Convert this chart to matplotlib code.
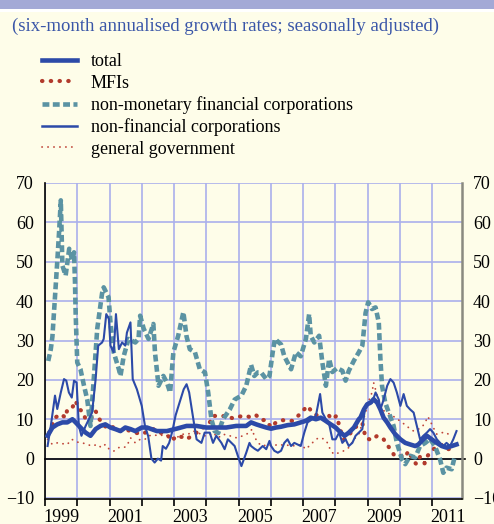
import matplotlib
matplotlib.use('Agg')
import matplotlib.pyplot as plt
from matplotlib.patches import Rectangle
from matplotlib.lines import Line2D

plt.rcParams['font.family'] = ['Liberation Serif', 'DejaVu Serif']

# non-monetary financial corporations
nmfc_x = [1999.10, 1999.18, 1999.23, 1999.38, 1999.44, 1999.49, 1999.54, 1999.64, 1999.75, 1999.85,
          1999.90, 1999.93, 1999.95, 2000.00, 2000.10, 2000.21, 2000.31, 2000.41, 2000.51, 2000.62,
          2000.77, 2000.82, 2000.97, 2001.03, 2001.13, 2001.29, 2001.34, 2001.44, 2001.59, 2001.80,
          2001.90, 2001.95, 2002.06, 2002.21, 2002.36, 2002.41, 2002.52, 2002.67, 2002.78, 2002.88,
          2002.98, 2003.13, 2003.29, 2003.39, 2003.49, 2003.65, 2003.80, 2003.96, 2004.06, 2004.16,
          2004.26, 2004.37, 2004.52, 2004.73, 2004.88, 2005.09, 2005.24, 2005.39, 2005.49, 2005.60,
          2005.70, 2005.86, 2005.96, 2006.06, 2006.13, 2006.32, 2006.42, 2006.63, 2006.78, 2006.93,
          2007.09, 2007.19, 2007.24, 2007.35, 2007.50, 2007.60, 2007.71, 2007.81, 2007.91, 2008.06,
          2008.22, 2008.32, 2008.42, 2008.58, 2008.73, 2008.84, 2008.94, 2009.02, 2009.14, 2009.25,
          2009.35, 2009.40, 2009.45, 2009.55, 2009.66, 2009.81, 2009.91, 2010.07, 2010.17, 2010.32,
          2010.48, 2010.63, 2010.79, 2010.94, 2011.09, 2011.25, 2011.35, 2011.45, 2011.61, 2011.71]
nmfc_y = [24.8, 27.8, 31.0, 50.0, 58.0, 65.6, 49.0, 46.5, 53.3, 50.3,
          52.4, 44.8, 37.0, 24.4, 22.7, 18.5, 15.0, 8.3, 20.0, 33.0,
          42.0, 43.5, 41.0, 34.6, 27.0, 22.7, 21.0, 26.0, 30.4, 29.5,
          30.4, 36.3, 33.0, 30.4, 34.2, 27.0, 18.5, 21.0, 19.3, 16.8,
          27.0, 31.2, 37.2, 31.0, 27.8, 27.0, 22.7, 21.9, 16.8, 10.0,
          7.0, 6.5, 10.0, 12.5, 15.0, 16.0, 18.5, 23.8, 21.0, 21.9,
          21.9, 20.2, 21.0, 27.0, 30.4, 29.0, 26.0, 22.7, 27.0, 26.0,
          30.4, 36.7, 31.2, 29.5, 31.2, 24.4, 18.5, 25.3, 22.0, 23.0,
          22.3, 19.8, 22.3, 24.9, 27.0, 28.7, 37.0, 39.7, 38.0, 38.4,
          34.6, 25.3, 18.5, 14.2, 11.7, 8.3, 4.0, -0.2, -1.4, 0.7,
          0.3, 3.2, 4.0, 5.0, 3.2, -0.2, -3.6, -2.3, -2.7, 0.7]

# non-financial corporations
nfc_x = [1999.08, 1999.18, 1999.31, 1999.38, 1999.49, 1999.59, 1999.66, 1999.74, 1999.83, 1999.90,
         1999.98, 2000.05, 2000.13, 2000.26, 2000.36, 2000.46, 2000.57, 2000.65, 2000.77, 2000.82,
         2000.90, 2000.98, 2001.03, 2001.13, 2001.20, 2001.29, 2001.39, 2001.49, 2001.54, 2001.65,
         2001.72, 2001.85, 2002.00, 2002.10, 2002.20, 2002.30, 2002.40, 2002.50, 2002.60, 2002.65,
         2002.75, 2002.85, 2002.95, 2003.05, 2003.14, 2003.30, 2003.39, 2003.47, 2003.60, 2003.70,
         2003.85, 2003.95, 2004.11, 2004.21, 2004.31, 2004.47, 2004.57, 2004.67, 2004.88, 2004.98,
         2005.09, 2005.24, 2005.34, 2005.39, 2005.50, 2005.60, 2005.75, 2005.86, 2005.96, 2006.01,
         2006.11, 2006.22, 2006.32, 2006.42, 2006.52, 2006.63, 2006.73, 2006.83, 2006.93, 2007.04,
         2007.14, 2007.29, 2007.40, 2007.53, 2007.60, 2007.71, 2007.81, 2007.91, 2008.01, 2008.12,
         2008.22, 2008.32, 2008.42, 2008.53, 2008.63, 2008.73, 2008.84, 2008.89, 2008.94, 2009.04,
         2009.14, 2009.25, 2009.35, 2009.40, 2009.50, 2009.61, 2009.71, 2009.81, 2009.91, 2010.02,
         2010.12, 2010.22, 2010.32, 2010.43, 2010.53, 2010.63, 2010.73, 2010.84, 2010.94, 2011.04,
         2011.15, 2011.25, 2011.35, 2011.45, 2011.56, 2011.66, 2011.76]
nfc_y = [3.2, 8.3, 16.0, 12.6, 16.8, 20.2, 19.8, 16.8, 15.5, 19.8,
         19.3, 8.3, 5.8, 8.3, 10.0, 11.7, 20.2, 28.7, 29.5, 30.4,
         36.7, 35.5, 28.7, 27.0, 36.7, 27.8, 29.5, 28.7, 32.0, 34.6,
         20.2, 17.6, 13.4, 8.3, 5.7, 0.0, -1.0, 0.0, -0.5, 3.2,
         2.5, 4.0, 7.0, 11.0, 13.4, 17.6, 18.9, 16.8, 10.0, 4.9,
         4.0, 6.6, 6.6, 4.0, 5.8, 4.0, 2.4, 4.9, 3.2, 0.7,
         -1.9, 1.5, 4.0, 3.2, 2.5, 2.0, 3.2, 2.4, 4.5, 3.2,
         2.0, 1.5, 2.0, 4.0, 4.9, 3.2, 4.0, 3.6, 3.2, 6.6,
         9.2, 10.0, 10.9, 16.4, 11.7, 10.0, 8.8, 4.9, 4.9, 6.6,
         4.0, 4.9, 3.2, 4.0, 5.8, 6.6, 7.5, 10.9, 13.4, 14.2,
         14.2, 16.8, 15.0, 12.5, 15.0, 18.5, 20.2, 19.3, 16.8, 13.4,
         16.4, 13.4, 12.5, 11.7, 8.3, 4.9, 5.8, 6.6, 7.5, 6.6,
         4.9, 4.0, 3.2, 4.0, 3.2, 4.9, 7.0]

# total
total_x = [1999.08, 1999.23, 1999.38, 1999.54, 1999.69, 1999.85, 1999.95, 2000.10, 2000.26, 2000.41,
           2000.57, 2000.72, 2000.87, 2001.03, 2001.18, 2001.34, 2001.49, 2001.65, 2001.80, 2002.00,
           2002.16, 2002.47, 2002.78, 2003.08, 2003.39, 2003.70, 2004.00, 2004.31, 2004.62, 2004.93,
           2005.24, 2005.39, 2005.55, 2005.70, 2005.86, 2006.01, 2006.16, 2006.32, 2006.52, 2006.73,
           2006.93, 2007.09, 2007.24, 2007.40, 2007.55, 2007.70, 2007.86, 2008.01, 2008.17, 2008.29,
           2008.42, 2008.58, 2008.73, 2008.78, 2008.89, 2008.99, 2009.09, 2009.19, 2009.30, 2009.40,
           2009.50, 2009.61, 2009.71, 2009.86, 2010.02, 2010.17, 2010.32, 2010.48, 2010.58, 2010.68,
           2010.84, 2010.99, 2011.15, 2011.30, 2011.45, 2011.61, 2011.76]
total_y = [5.8, 7.9, 8.7, 9.2, 9.2, 10.0, 9.2, 7.9, 6.6, 5.8,
           7.5, 8.3, 8.7, 7.9, 7.5, 7.0, 7.9, 7.5, 7.0, 7.9,
           7.9, 7.0, 7.0, 7.6, 8.3, 8.3, 7.9, 7.9, 7.9, 8.3,
           8.3, 9.2, 8.7, 8.3, 7.9, 7.6, 7.9, 8.1, 8.5, 8.7,
           9.2, 9.6, 10.4, 10.0, 10.4, 9.6, 8.7, 7.9, 6.6, 5.8,
           6.6, 7.9, 10.0, 10.4, 12.5, 13.8, 14.2, 15.1, 14.2, 12.5,
           10.4, 9.2, 7.9, 6.2, 4.9, 4.0, 3.6, 3.2, 3.6, 4.5,
           5.8, 4.9, 4.0, 3.2, 2.8, 3.2, 3.6]

# MFIs
mfi_x = [1999.13, 1999.31, 1999.49, 1999.64, 1999.69, 1999.85, 1999.95, 2000.05, 2000.16, 2000.26,
         2000.41, 2000.57, 2000.67, 2000.82, 2000.98, 2001.13, 2001.34, 2001.54, 2001.80, 2002.00,
         2002.21, 2002.37, 2002.57, 2002.78, 2002.93, 2003.08, 2003.24, 2003.39, 2003.55, 2003.70,
         2003.90, 2004.11, 2004.21, 2004.42, 2004.62, 2004.83, 2005.04, 2005.24, 2005.39, 2005.55,
         2005.70, 2005.86, 2006.01, 2006.16, 2006.34, 2006.52, 2006.68, 2006.83, 2006.99, 2007.14,
         2007.29, 2007.45, 2007.65, 2007.76, 2007.91, 2008.04, 2008.17, 2008.27, 2008.42, 2008.58,
         2008.73, 2008.84, 2008.94, 2009.12, 2009.30, 2009.50, 2009.60, 2009.71, 2009.84, 2010.02,
         2010.17, 2010.27, 2010.37, 2010.51, 2010.63, 2010.77, 2010.84, 2011.00, 2011.15, 2011.32,
         2011.49, 2011.63]
mfi_y = [6.6, 10.4, 11.3, 10.4, 12.5, 13.0, 14.7, 12.5, 12.1, 10.0,
         10.0, 12.1, 10.2, 8.5, 7.5, 8.1, 7.0, 7.3, 6.6, 6.2,
         7.0, 7.5, 6.6, 6.2, 4.5, 5.8, 5.5, 4.9, 5.8, 6.6,
         7.9, 9.2, 10.9, 10.7, 10.9, 10.2, 10.7, 10.9, 10.4, 11.0,
         9.8, 9.8, 7.9, 9.2, 9.8, 9.6, 9.6, 10.7, 12.1, 13.4,
         11.7, 10.9, 10.0, 11.3, 10.0, 10.9, 7.0, 4.9, 5.8, 7.9,
         8.3, 9.0, 5.3, 4.7, 5.8, 4.9, 3.6, 2.4, 0.7, 0.8,
         0.3, 2.0, 0.3, -1.4, 0.5, -1.2, 0.5, 2.0, 3.2, 3.5,
         2.4, 2.5]

# general government
gg_x = [1999.08, 1999.23, 1999.38, 1999.54, 1999.69, 1999.83, 2000.00, 2000.16, 2000.31, 2000.46,
        2000.62, 2000.75, 2000.87, 2000.98, 2001.13, 2001.29, 2001.44, 2001.54, 2001.65, 2001.80,
        2001.95, 2002.10, 2002.21, 2002.37, 2002.57, 2002.72, 2002.88, 2003.08, 2003.24, 2003.44,
        2003.60, 2003.75, 2003.90, 2004.06, 2004.21, 2004.37, 2004.52, 2004.73, 2004.93, 2005.14,
        2005.34, 2005.42, 2005.50, 2005.60, 2005.75, 2005.91, 2006.06, 2006.22, 2006.42, 2006.58,
        2006.78, 2006.93, 2007.09, 2007.24, 2007.40, 2007.50, 2007.65, 2007.76, 2007.86, 2007.96,
        2008.12, 2008.27, 2008.42, 2008.58, 2008.73, 2008.78, 2008.94, 2009.04, 2009.14, 2009.19,
        2009.30, 2009.40, 2009.55, 2009.71, 2009.86, 2010.07, 2010.27, 2010.43, 2010.58, 2010.68,
        2010.79, 2010.87, 2010.94, 2011.04, 2011.15, 2011.30, 2011.45, 2011.56]
gg_y = [4.9, 3.6, 4.0, 3.8, 3.6, 4.9, 4.2, 4.0, 3.6, 3.2,
        3.6, 2.8, 3.6, 2.5, 1.9, 2.8, 2.8, 3.2, 5.3, 4.0,
        4.9, 4.9, 5.8, 6.0, 5.8, 6.2, 5.3, 5.3, 6.2, 6.2,
        7.0, 6.6, 5.8, 5.8, 6.6, 5.3, 6.2, 5.8, 5.3, 5.8,
        6.6, 7.5, 5.5, 4.0, 3.2, 3.6, 3.2, 3.6, 3.4, 3.4,
        3.2, 3.6, 2.4, 3.6, 4.9, 5.3, 5.0, 4.0, 2.0, 1.1,
        1.5, 2.0, 2.8, 4.9, 6.2, 7.5, 11.7, 14.7, 16.8, 19.3,
        16.0, 13.4, 11.7, 11.3, 10.4, 9.2, 7.9, 7.0, 7.5, 7.9,
        9.2, 10.7, 9.6, 7.9, 6.2, 6.6, 6.6, 5.8]

year_ticks = list(range(1999, 2012))
year_labels = ['1999', '2001', '2003', '2005', '2007', '2009', '2011']
y_ticks = [-10, 0, 10, 20, 30, 40, 50, 60, 70]

bg = '#fefde9'
blue = '#2c4aa8'
red = '#b23a2c'
gg_red = '#c0463a'
teal = '#5b93a3'
grid_c = '#aab0ec'

fig = plt.figure(figsize=(4.94, 5.24), dpi=100, facecolor=bg)
fig.patches.append(Rectangle((0, 1 - 9 / 524), 1, 9 / 524, transform=fig.transFigure,
                             facecolor='#a3a9d6', edgecolor='none'))
fig.patches.append(Rectangle((0, 1 - 12 / 524), 1, 3 / 524, transform=fig.transFigure,
                             facecolor='white', edgecolor='none'))
fig.text(12 / 494, 1 - 26 / 524, '(six-month annualised growth rates; seasonally adjusted)',
         color='#3a56a8', fontsize=13.5, va='center', ha='left')

ax = fig.add_axes([45 / 494, 1 - 498 / 524, 417 / 494, 315 / 524], facecolor=bg)

ax.plot(gg_x, gg_y, color=gg_red, lw=1.3, linestyle=(0, (0.1, 3.2)), dash_capstyle='round', zorder=3)
ax.plot(mfi_x, mfi_y, color=red, lw=3.0, linestyle=(0, (0.1, 2.0)), dash_capstyle='round', zorder=3)
ax.plot(nmfc_x, nmfc_y, color=teal, lw=3.3, linestyle=(0, (1.5, 0.75)), zorder=4)
ax.plot(nfc_x, nfc_y, color=blue, lw=1.5, zorder=5)
ax.plot(total_x, total_y, color=blue, lw=3.3, zorder=6)

ax.axhline(0, color='black', lw=1.2, zorder=2, xmax=1.008, clip_on=False)

ax.set_xlim(1999.077, 2011.93)
ax.set_ylim(-10, 70)
ax.set_xticks(year_ticks)
ax.set_xticklabels([])
ax.set_xticks([int(t) + 0.5 for t in year_labels], minor=True)
ax.set_xticklabels(year_labels, minor=True)
ax.set_yticks(y_ticks)
ax.tick_params(axis='x', which='major', direction='out', length=5, width=1.2, color='black')
ax.tick_params(axis='x', which='minor', length=0, pad=7, labelsize=13)
ax.tick_params(axis='y', which='major', length=0, labelsize=13, labelleft=True, labelright=True, pad=8)
ax.grid(True, which='major', color=grid_c, lw=1.2, zorder=0)
ax.set_axisbelow(True)

ax.spines['top'].set_visible(False)
ax.spines['left'].set_color('black')
ax.spines['left'].set_linewidth(1.2)
ax.spines['right'].set_color('#8a8a80')
ax.spines['right'].set_linewidth(1.8)
ax.spines['bottom'].set_color('black')
ax.spines['bottom'].set_linewidth(1.2)
ax.spines['bottom'].set_position(('outward', 1))

handles = [
    Line2D([], [], color=blue, lw=3.3),
    Line2D([], [], color=red, lw=3.0, linestyle=(0, (0.1, 2.0)), dash_capstyle='round'),
    Line2D([], [], color=teal, lw=3.3, linestyle=(0, (1.5, 0.75))),
    Line2D([], [], color=blue, lw=1.8),
    Line2D([], [], color=gg_red, lw=1.3, linestyle=(0, (0.1, 3.2)), dash_capstyle='round'),
]
labels = ['total', 'MFIs', 'non-monetary financial corporations', 'non-financial corporations',
          'general government']
fig.legend(handles, labels, loc='upper left', bbox_to_anchor=(42 / 494, 1 - 53 / 524),
           frameon=False, fontsize=13, handlelength=1.95, handletextpad=0.75, labelspacing=0.25,
           borderpad=0, borderaxespad=0)

fig.savefig('out.png', dpi=100, facecolor=bg)
